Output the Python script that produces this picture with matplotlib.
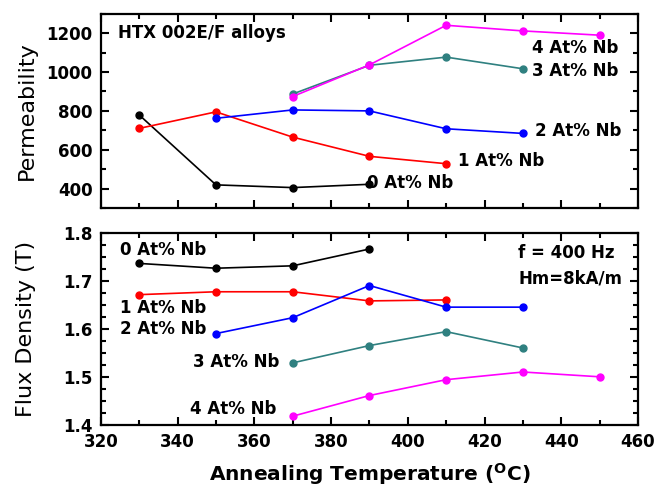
import matplotlib.pyplot as plt
from matplotlib.ticker import MultipleLocator

# annealing temperatures (C) per Nb content
temp_0 = [330, 350, 370, 390]
temp_1 = [330, 350, 370, 390, 410]
temp_2 = [350, 370, 390, 410, 430]
temp_3 = [370, 390, 410, 430]
temp_4 = [370, 390, 410, 430, 450]

# permeability (top panel)
perm_0 = [779, 419, 405, 422]
perm_1 = [710, 795, 665, 566, 528]
perm_2 = [762, 805, 800, 708, 684]
perm_3 = [887, 1035, 1077, 1017]
perm_4 = [874, 1037, 1241, 1212, 1190]

# flux density (bottom panel)
flux_0 = [1.736, 1.726, 1.731, 1.766]
flux_1 = [1.671, 1.677, 1.677, 1.658, 1.660]
flux_2 = [1.590, 1.623, 1.690, 1.645, 1.645]
flux_3 = [1.529, 1.565, 1.594, 1.560]
flux_4 = [1.418, 1.461, 1.494, 1.510, 1.500]

labels = ["0 At% Nb", "1 At% Nb", "2 At% Nb", "3 At% Nb", "4 At% Nb"]
colors = ['#000000', '#FF0000', '#0000FF', '#2F8080', '#FF00FF']

temps = [temp_0, temp_1, temp_2, temp_3, temp_4]
perms = [perm_0, perm_1, perm_2, perm_3, perm_4]
fluxes = [flux_0, flux_1, flux_2, flux_3, flux_4]

plt.rcParams['font.family'] = 'DejaVu Sans'

fig = plt.figure(figsize=(6.55, 4.94), dpi=100)
ax1 = fig.add_axes([0.154, 0.579, 0.820, 0.393])
ax2 = fig.add_axes([0.154, 0.140, 0.820, 0.389])

for t, p, c in zip(temps, perms, colors):
    ax1.plot(t, p, '-o', color=c, lw=1.2, ms=5)
for t, f, c in zip(temps, fluxes, colors):
    ax2.plot(t, f, '-o', color=c, lw=1.2, ms=5)

# axes styling, Origin-like
for ax in (ax1, ax2):
    ax.set_xlim(320, 460)
    ax.xaxis.set_major_locator(MultipleLocator(20))
    ax.xaxis.set_minor_locator(MultipleLocator(10))
    ax.tick_params(which='both', direction='in', top=True, right=True, width=1.5)
    ax.tick_params(which='major', length=6)
    ax.tick_params(which='minor', length=3.5)
    for s in ax.spines.values():
        s.set_linewidth(1.6)
    ax.tick_params(labelsize=12, pad=6)

ax1.set_ylim(300, 1300)
ax1.yaxis.set_major_locator(MultipleLocator(200))
ax1.yaxis.set_minor_locator(MultipleLocator(100))
ax1.tick_params(labelbottom=False)

ax2.set_ylim(1.4, 1.8)
ax2.yaxis.set_major_locator(MultipleLocator(0.1))
ax2.yaxis.set_minor_locator(MultipleLocator(0.025))

for ax in (ax1, ax2):
    for lab in ax.get_xticklabels() + ax.get_yticklabels():
        lab.set_fontweight('bold')

ax1.set_ylabel("Permeability", fontsize=16)
ax2.set_ylabel("Flux Density (T)", fontsize=16)
ax1.yaxis.set_label_coords(-0.12, 0.5)
ax2.yaxis.set_label_coords(-0.12, 0.5)
ax2.set_xlabel(r"Annealing Temperature ($^\mathbf{O}$C)", fontsize=14.5,
               fontweight='bold', labelpad=7)

kw = dict(fontsize=12, fontweight='bold', va='center', ha='left')
ax1.text(324.4, 1200, "HTX 002E/F alloys", **kw)
ax1.text(432.4, 1125, labels[4], **kw)
ax1.text(432.3, 1004, labels[3], **kw)
ax1.text(433.1, 696, labels[2], **kw)
ax1.text(413.0, 544, labels[1], **kw)
ax1.text(389.3, 427, labels[0], **kw)

ax2.text(325.0, 1.763, labels[0], **kw)
ax2.text(428.8, 1.758, "f = 400 Hz", **kw)
ax2.text(428.8, 1.704, "Hm=8kA/m", **kw)
ax2.text(325.0, 1.644, labels[1], **kw)
ax2.text(325.0, 1.599, labels[2], **kw)
ax2.text(344.1, 1.530, labels[3], **kw)
ax2.text(343.2, 1.432, labels[4], **kw)

plt.savefig('out.png', dpi=100)
